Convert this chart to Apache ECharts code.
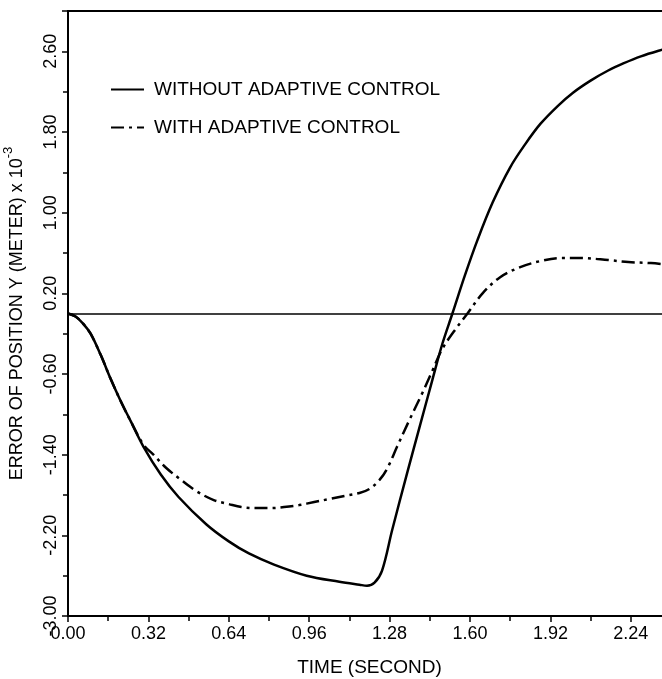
<!DOCTYPE html>
<html><head><meta charset="utf-8">
<script src="https://cdn.jsdelivr.net/npm/echarts@6/dist/echarts.min.js"></script>
<style>html,body{margin:0;padding:0;background:#fff}#c{width:662px;height:679px}</style>
</head><body><div id="c"></div>
<script>
// Time (s) and error of position Y (x1e-3 m)
const withoutT = [0.00,0.03,0.06,0.09,0.13,0.17,0.21,0.25,0.30,0.37,0.44,0.55,0.64,0.72,0.82,0.95,1.08,1.16,1.19,1.22,1.25,1.29,1.35,1.40,1.45,1.49,1.53,1.58,1.63,1.69,1.76,1.82,1.88,1.95,2.01,2.08,2.15,2.21,2.28,2.37,2.40];
const withoutY = [0.00,-0.03,-0.10,-0.20,-0.41,-0.65,-0.87,-1.07,-1.32,-1.60,-1.82,-2.09,-2.26,-2.38,-2.49,-2.60,-2.66,-2.69,-2.70,-2.67,-2.55,-2.15,-1.58,-1.12,-0.66,-0.30,0.00,0.38,0.73,1.10,1.45,1.68,1.88,2.06,2.19,2.31,2.41,2.48,2.55,2.62,2.64];
const withT = [0.00,0.03,0.06,0.09,0.13,0.17,0.21,0.25,0.30,0.34,0.39,0.45,0.51,0.58,0.64,0.69,0.75,0.81,0.86,0.92,0.98,1.04,1.10,1.16,1.20,1.24,1.27,1.31,1.36,1.41,1.45,1.49,1.55,1.59,1.65,1.72,1.80,1.88,1.96,2.04,2.15,2.23,2.32,2.40];
const withY = [0.00,-0.03,-0.10,-0.20,-0.41,-0.65,-0.87,-1.07,-1.30,-1.40,-1.53,-1.65,-1.76,-1.85,-1.89,-1.92,-1.93,-1.93,-1.92,-1.90,-1.87,-1.84,-1.81,-1.78,-1.74,-1.65,-1.54,-1.32,-1.05,-0.79,-0.57,-0.35,-0.13,0.00,0.20,0.36,0.46,0.52,0.55,0.55,0.53,0.51,0.50,0.48];
const seriesNames = ['WITHOUT ADAPTIVE CONTROL','WITH ADAPTIVE CONTROL'];
const xRange = [0, 2.40];
const yRange = [-3.00, 3.00];

const zip = (a, b) => a.map((v, i) => [v, b[i]]);
const font = 'Liberation Sans';
const chart = echarts.init(document.getElementById('c'), null, {renderer: 'canvas'});
chart.setOption({
  animation: false,
  backgroundColor: '#fff',
  grid: {left: 68, right: -9, top: 11, bottom: 63, show: true, borderColor: '#000', borderWidth: 2,
    containLabel: false, outerBoundsMode: 'none'},
  legend: {
    orient: 'vertical', left: 105, top: 75, itemWidth: 33, itemHeight: 14, itemGap: 19,
    itemStyle: {color: 'rgba(0,0,0,0)', borderColor: 'rgba(0,0,0,0)', borderWidth: 0},
    textStyle: {fontFamily: font, fontSize: 19, color: '#000', padding: [0, 0, 0, 5]},
    data: seriesNames
  },
  xAxis: {
    type: 'value', min: xRange[0], max: xRange[1], interval: 0.32,
    name: 'TIME (SECOND)', nameLocation: 'middle', nameGap: 42,
    nameTextStyle: {fontFamily: font, fontSize: 19, color: '#000'},
    axisLine: {onZero: false, lineStyle: {color: '#000', width: 2}},
    axisTick: {show: true, inside: false, length: 6, lineStyle: {color: '#000', width: 1.5}},
    minorTick: {show: true, splitNumber: 2, length: 5, lineStyle: {color: '#000', width: 1.5}},
    axisLabel: {fontFamily: font, fontSize: 18, color: '#000', margin: 9, showMaxLabel: false,
      formatter: v => v.toFixed(2)},
    splitLine: {show: false}
  },
  yAxis: {
    type: 'value', min: yRange[0], max: yRange[1], interval: 0.8,
    name: 'ERROR OF POSITION Y (METER) x 10{sup|-3}', nameLocation: 'middle', nameGap: 36, nameRotate: 90,
    nameTextStyle: {fontFamily: font, fontSize: 18, color: '#000',
      rich: {sup: {fontFamily: font, fontSize: 13, color: '#000', verticalAlign: 'top', lineHeight: 30}}},
    axisLine: {onZero: false, lineStyle: {color: '#000', width: 2}},
    axisTick: {show: true, inside: false, length: 6, lineStyle: {color: '#000', width: 1.5}},
    minorTick: {show: true, splitNumber: 2, length: 5, lineStyle: {color: '#000', width: 1.5}},
    axisLabel: {fontFamily: font, fontSize: 18, color: '#000', rotate: 90, margin: 8, showMaxLabel: false,
      formatter: v => v.toFixed(2)},
    splitLine: {show: false}
  },
  series: [
    {
      name: seriesNames[0], type: 'line', data: zip(withoutT, withoutY),
      showSymbol: false, symbol: 'none', smooth: 0.35,
      lineStyle: {color: '#000', width: 2.5, type: 'solid'}, itemStyle: {color: '#000'},
      markLine: {silent: true, symbol: 'none', label: {show: false},
        lineStyle: {color: '#000', width: 1.5, type: 'solid'}, data: [{yAxis: 0}]}
    },
    {
      name: seriesNames[1], type: 'line', data: zip(withT, withY),
      showSymbol: false, symbol: 'none', smooth: 0.35,
      lineStyle: {color: '#000', width: 2.5, type: [13, 5, 3, 5]}, itemStyle: {color: '#000'}
    }
  ]
});
</script></body></html>
